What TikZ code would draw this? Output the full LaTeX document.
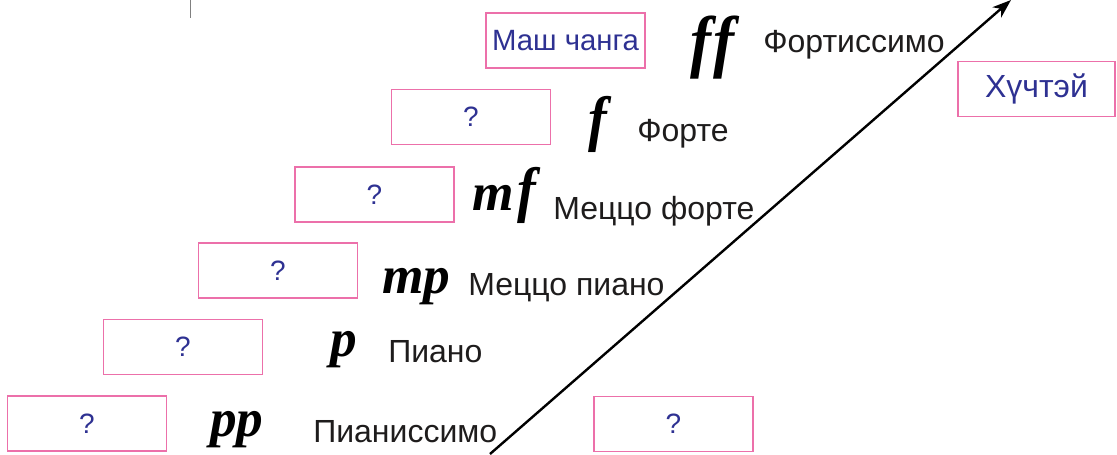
\documentclass[tikz,border=0pt]{standalone}
\usepackage{fontspec}
\usepackage{graphicx}
\setmainfont{Liberation Sans}
\newfontfamily\dyn{Liberation Serif}
\usetikzlibrary{arrows.meta}
\definecolor{boxpink}{RGB}{236,112,170}
\definecolor{qblue}{RGB}{46,49,146}
\definecolor{lbl}{RGB}{30,28,28}
\newcommand\dynF{\scalebox{1.05}[1.15]{f}}
\begin{document}
\begin{tikzpicture}[x=0.75pt,y=-0.75pt,
  ansbox/.style={draw=boxpink, line width=1.2pt, minimum width=119.5pt, minimum height=41.5pt, inner sep=0pt, text=qblue, font=\fontsize{21}{21}\selectfont},
  dynsym/.style={anchor=base west, inner sep=0pt, text=black, font=\dyn\bfseries\itshape\fontsize{40}{40}\selectfont},
  lab/.style={anchor=base west, inner sep=0pt, text=lbl, font=\fontsize{24}{24}\selectfont},
]
\useasboundingbox (0,0) rectangle (1117,454);
% boxes
\node[ansbox, font=\fontsize{22}{22}\selectfont] (bff) at (565.5,40.5) {Маш чанга};
\node[ansbox] (bf)  at (471,117) {?};
\node[ansbox] (bmf) at (374.5,194.5) {?};
\node[ansbox] (bmp) at (278,270.5) {?};
\node[ansbox] (bp)  at (183,347) {?};
\node[ansbox] (bpp) at (87,423.5) {?};
\node[ansbox] (bq)  at (673.5,424) {?};
\node[ansbox, minimum width=118pt, font=\fontsize{24}{24}\selectfont] (bh) at (1036.5,89) {Хүчтэй};
% dynamics
\node[dynsym, font=\dyn\bfseries\itshape\fontsize{45}{45}\selectfont] (dff) at (690,64) {\dynF\kern2pt\dynF};
\node[dynsym] (df)  at (588,139) {\dynF};
\node[dynsym] (dmf) at (472,210) {m\kern3pt\dynF};
\node[dynsym] (dmp) at (382,293) {mp};
\node[dynsym] (dp)  at (330,356) {p};
\node[dynsym] (dpp) at (210,436) {pp};
% labels
\node[lab] (lff) at (763,52) {Фортиссимо};
\node[lab] (lf)  at (637,141) {Форте};
\node[lab] (lmf) at (553,219) {Меццо форте};
\node[lab] (lmp) at (468,295) {Меццо пиано};
\node[lab] (lp)  at (388,362) {Пиано};
\node[lab] (lpp) at (313,442) {Пианиссимо};
% arrow
\coordinate (aS) at (490,454);
\coordinate (aE) at (1011,0);
\draw[line width=1.8pt, -{Stealth[length=14pt,width=10pt,inset=4pt]}] (aS) -- (aE);
% stray mark
\coordinate (m1) at (190.5,0);
\coordinate (m2) at (190.5,18);
\draw[gray, line width=0.8pt] (m1) -- (m2);
\end{tikzpicture}
\end{document}
